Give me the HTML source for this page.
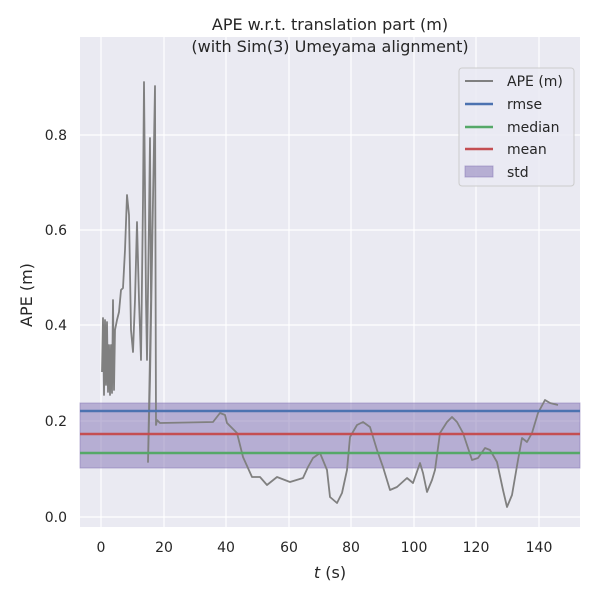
<!DOCTYPE html>
<html><head><meta charset="utf-8"><style>body{margin:0;background:#fff}</style></head><body>
<svg width="600" height="600" xmlns="http://www.w3.org/2000/svg" font-family="DejaVu Sans, Liberation Sans, sans-serif">
<rect x="0" y="0" width="600" height="600" fill="#fff"/>
<rect x="80" y="37" width="500" height="490" fill="#eaeaf2"/>
<g stroke="#fff" stroke-width="1.2">
<line x1="101" y1="37" x2="101" y2="527"/><line x1="164" y1="37" x2="164" y2="527"/><line x1="226" y1="37" x2="226" y2="527"/><line x1="289" y1="37" x2="289" y2="527"/><line x1="351" y1="37" x2="351" y2="527"/><line x1="414" y1="37" x2="414" y2="527"/><line x1="476" y1="37" x2="476" y2="527"/><line x1="539" y1="37" x2="539" y2="527"/>
<line x1="80" y1="517" x2="580" y2="517"/><line x1="80" y1="421" x2="580" y2="421"/><line x1="80" y1="325" x2="580" y2="325"/><line x1="80" y1="230" x2="580" y2="230"/><line x1="80" y1="135" x2="580" y2="135"/>
</g>
<rect x="80" y="403" width="500" height="65" fill="#8172b3" fill-opacity="0.5" stroke="#8172b3" stroke-opacity="0.5"/>
<polyline fill="none" stroke="#808080" stroke-width="1.8" stroke-linejoin="round" points="102,372 103,318 104,395 105,320 106,385 107,322 108,392 109,345 110,395 111,345 112,393 113,300 114,390 115,330 117,320 119,312 121,290 123,288 125,250 127,195 129,215 131,330 133,352 135,300 137,222 139,300 141,360 143,200 144,82 146,300 147,360 149,220 150,138 151,300 148,462 150,380 153,200 155,86 156,425 157,420 160,423 213,422 220,413 225,415 227,423 237,433 243,457 252,477 260,477 267,485 277,477 290,482 303,478 308,467 313,458 320,453 327,470 330,497 337,503 342,493 347,470 350,437 357,425 363,422 370,427 377,450 383,467 390,490 397,487 407,478 413,483 420,463 423,473 427,492 432,480 435,470 440,433 447,422 452,417 457,422 463,433 472,460 478,458 485,448 490,450 497,462 503,490 507,507 512,495 518,460 522,438 527,442 532,433 538,413 545,400 550,403 558,405"/>
<line x1="80" y1="411" x2="580" y2="411" stroke="#4c72b0" stroke-width="2.5"/>
<line x1="80" y1="434" x2="580" y2="434" stroke="#c44e52" stroke-width="2.5"/>
<line x1="80" y1="453" x2="580" y2="453" stroke="#55a868" stroke-width="2.5"/>
<g font-size="14" fill="#262626" text-anchor="middle">
<text x="101" y="552">0</text><text x="164" y="552">20</text><text x="226" y="552">40</text><text x="289" y="552">60</text><text x="351" y="552">80</text><text x="414" y="552">100</text><text x="476" y="552">120</text><text x="539" y="552">140</text>
</g>
<g font-size="14" fill="#262626" text-anchor="end">
<text x="67" y="522">0.0</text><text x="67" y="426">0.2</text><text x="67" y="330">0.4</text><text x="67" y="235">0.6</text><text x="67" y="140">0.8</text>
</g>
<text x="330" y="578" font-size="16" fill="#262626" text-anchor="middle"><tspan font-style="italic">t</tspan> (s)</text>
<text x="32" y="295" font-size="16" fill="#262626" text-anchor="middle" transform="rotate(-90 32 295)">APE (m)</text>
<text x="330" y="30" font-size="16" fill="#262626" text-anchor="middle">APE w.r.t. translation part (m)</text>
<text x="330" y="52" font-size="16" fill="#262626" text-anchor="middle">(with Sim(3) Umeyama alignment)</text>
<rect x="459" y="68" width="115" height="118" rx="3" fill="#eaeaf2" fill-opacity="0.8" stroke="#ccc"/>
<line x1="465" y1="81" x2="493" y2="81" stroke="#808080" stroke-width="2"/>
<line x1="465" y1="104" x2="493" y2="104" stroke="#4c72b0" stroke-width="2.5"/>
<line x1="465" y1="127" x2="493" y2="127" stroke="#55a868" stroke-width="2.5"/>
<line x1="465" y1="149" x2="493" y2="149" stroke="#c44e52" stroke-width="2.5"/>
<rect x="465" y="166" width="28" height="11" fill="#8172b3" fill-opacity="0.5" stroke="#8172b3" stroke-opacity="0.5"/>
<g font-size="14" fill="#262626">
<text x="507" y="86">APE (m)</text><text x="507" y="109">rmse</text><text x="507" y="132">median</text><text x="507" y="154">mean</text><text x="507" y="177">std</text>
</g>
</svg>
</body></html>
